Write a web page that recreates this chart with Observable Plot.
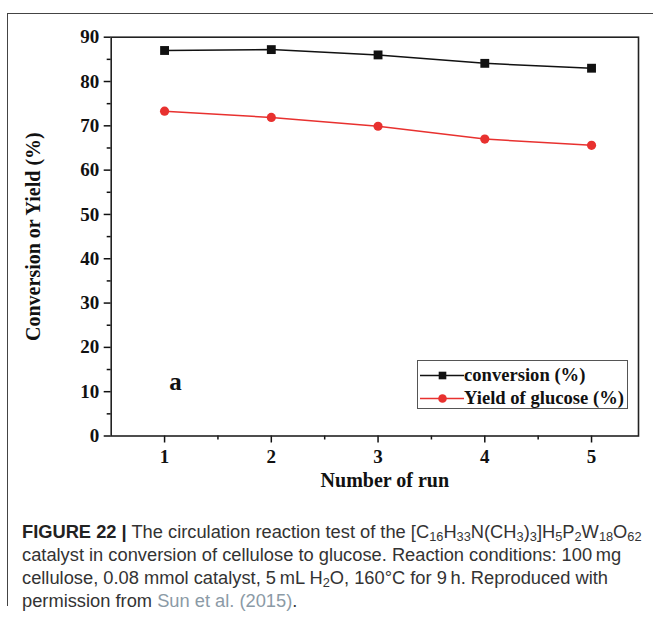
<!DOCTYPE html>
<html>
<head>
<meta charset="utf-8">
<script src="https://cdn.jsdelivr.net/npm/d3@7"></script>
<script src="https://cdn.jsdelivr.net/npm/@observablehq/plot@0.6"></script>
<style>
  html, body { margin: 0; padding: 0; background: #fff; }
  #wrap { position: relative; width: 653px; height: 620px; overflow: hidden; }
  #border { position: absolute; left: 7px; top: 13px; width: 700px; height: 592px;
            border-top: 1.5px solid #444; border-left: 1.5px solid #444; }
  #chart { position: absolute; left: 0; top: 0; }
  #legend { position: absolute; left: 417px; top: 360px; width: 209px; height: 47px;
            border: 1px solid #555; background: #fff;
            font-family: "Liberation Serif", serif; font-weight: bold; font-size: 18.6px; color: #111; }
  .row { position: absolute; left: 2px; height: 22px; display: flex; align-items: center; white-space: nowrap; }
  #caption { position: absolute; left: 22px; top: 520px; width: 640px; white-space: nowrap;
             font-family: "Liberation Sans", Arial, sans-serif; font-size: 18.3px; line-height: 23px; color: #333; }
  #caption b { font-weight: bold; color: #222; }
  #caption sub { font-size: 0.7em; vertical-align: -0.25em; line-height: 0; }
  #caption .ref { color: #8b9aa6; }
</style>
</head>
<body>
<div id="wrap">
  <div id="border"></div>
  <div id="chart"></div>
  <div id="legend"></div>
  <div id="caption">
    <div><b>FIGURE 22 |</b> The circulation reaction test of the [C<sub>16</sub>H<sub>33</sub>N(CH<sub>3</sub>)<sub>3</sub>]H<sub>5</sub>P<sub>2</sub>W<sub>18</sub>O<sub>62</sub></div>
    <div>catalyst in conversion of cellulose to glucose. Reaction conditions: 100&#8201;mg</div>
    <div>cellulose, 0.08 mmol catalyst, 5&#8201;mL H<sub>2</sub>O, 160°C for 9&#8201;h. Reproduced with</div>
    <div>permission from <span class="ref">Sun et al. (2015)</span>.</div>
  </div>
</div>
<script>
const runs = [1, 2, 3, 4, 5];
const conversion = [87.0, 87.2, 86.0, 84.1, 83.0];
const yieldGlucose = [73.3, 71.9, 69.9, 67.0, 65.6];
const yTicks = [0, 10, 20, 30, 40, 50, 60, 70, 80, 90];
const yMinorTicks = [5, 15, 25, 35, 45, 55, 65, 75, 85];
const xTicks = [1, 2, 3, 4, 5];
const xMinorTicks = [1.5, 2.5, 3.5, 4.5];
const seriesNames = ["conversion (%)", "Yield of glucose (%)"];
const seriesColors = ["#111111", "#e8312f"];
const xTitle = "Number of run";
const yTitle = "Conversion or Yield (%)";
const panelLabel = "a";

const convData = runs.map((r, i) => ({run: r, value: conversion[i]}));
const yieldData = runs.map((r, i) => ({run: r, value: yieldGlucose[i]}));

const font = {fontFamily: "Liberation Serif", fontWeight: "bold"};

const chart = Plot.plot({
  width: 653,
  height: 500,
  marginLeft: 110.7,
  marginRight: 15,
  marginTop: 36.7,
  marginBottom: 64.5,
  style: {fontFamily: "Liberation Serif", fontWeight: "bold", fontSize: "19px", color: "#111", background: "transparent"},
  x: {domain: [0.5, 5.44]},
  y: {domain: [0, 90]},
  marks: [
    Plot.axisY({ticks: yTicks, tickSize: 7, tickPadding: 5, fontSize: 19, ...font, label: null, strokeWidth: 1.5}),
    Plot.axisY({ticks: yMinorTicks, tickSize: 4, text: null, label: null, strokeWidth: 1.5}),
    Plot.axisX({ticks: xTicks, tickFormat: "d", tickSize: 7, tickPadding: 6, fontSize: 19, ...font, label: null, strokeWidth: 1.5}),
    Plot.axisX({ticks: xMinorTicks, tickSize: 4, text: null, label: null, strokeWidth: 1.5}),
    Plot.text([yTitle], {text: d => d, frameAnchor: "left", textAnchor: "middle", rotate: -90, dx: -78, fontSize: 20, ...font, fill: "#111"}),
    Plot.text([xTitle], {text: d => d, frameAnchor: "bottom", dx: 10, dy: 51, fontSize: 20, ...font, fill: "#111"}),
    Plot.frame({stroke: "#222", strokeWidth: 1.6}),
    Plot.line(convData, {x: "run", y: "value", stroke: seriesColors[0], strokeWidth: 1.5}),
    Plot.dot(convData, {x: "run", y: "value", symbol: "square", r: 5, fill: seriesColors[0], stroke: "none"}),
    Plot.line(yieldData, {x: "run", y: "value", stroke: seriesColors[1], strokeWidth: 1.5}),
    Plot.dot(yieldData, {x: "run", y: "value", symbol: "circle", r: 4.6, fill: seriesColors[1], stroke: "none"}),
    Plot.text([panelLabel], {text: d => d, frameAnchor: "bottom-left", dx: 58, dy: -46, fontSize: 25, ...font, fill: "#111"})
  ]
});
document.getElementById("chart").appendChild(chart);

// legend
const legend = document.getElementById("legend");
const symbols = ["square", "circle"];
seriesNames.forEach((name, i) => {
  const row = document.createElement("div");
  row.className = "row";
  row.style.top = (i === 0 ? 3 : 26) + "px";
  const sw = Plot.plot({
    width: 44, height: 20, margin: 0,
    x: {domain: [0, 1], axis: null}, y: {domain: [0, 1], axis: null},
    style: {background: "transparent"},
    marks: [
      Plot.ruleY([0.5], {stroke: seriesColors[i], strokeWidth: 1.5}),
      Plot.dot([0.5], {x: d => d, y: 0.5, symbol: symbols[i], r: 4.3, fill: seriesColors[i], stroke: "none"})
    ]
  });
  row.appendChild(sw);
  const t = document.createElement("span");
  t.textContent = name;
  row.appendChild(t);
  legend.appendChild(row);
});
</script>
</body>
</html>
